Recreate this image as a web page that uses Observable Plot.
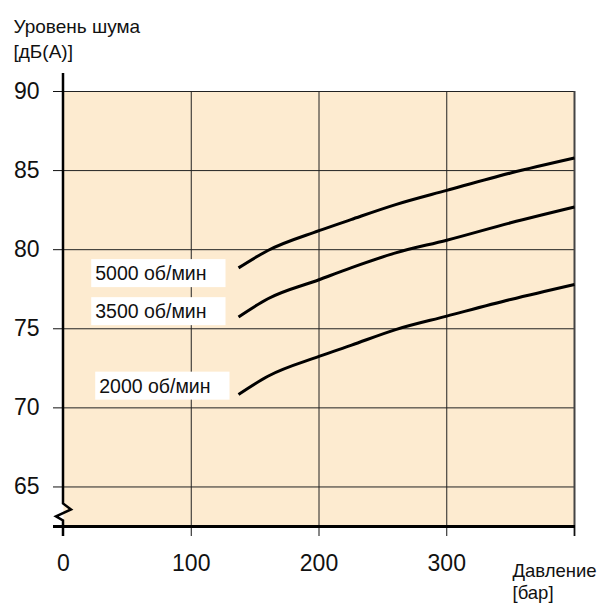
<!DOCTYPE html>
<html><head><meta charset="utf-8">
<script src="https://cdn.jsdelivr.net/npm/d3@7"></script>
<script src="https://cdn.jsdelivr.net/npm/@observablehq/plot@0.6"></script>
<style>body{margin:0;background:#fff}</style>
</head><body><div id="chart"></div>
<script>
// Data
const pressure = [137, 160, 200, 225, 260, 300, 350, 400];          // бар
const noise5000 = [78.85, 79.95, 81.2, 81.9, 82.85, 83.75, 84.85, 85.8]; // дБ(А)
const noise3500 = [75.75, 76.9, 78.1, 78.85, 79.8, 80.6, 81.7, 82.7];
const noise2000 = [70.85, 72.0, 73.25, 73.95, 74.95, 75.8, 76.85, 77.8];
const seriesNames = ["5000 об/мин", "3500 об/мин", "2000 об/мин"];
const xTicks = [0, 100, 200, 300, 400];
const xTickLabels = ["0", "100", "200", "300", ""];
const yTicks = [65, 70, 75, 80, 85, 90];
const yDomain = [62.5, 90];
const xDomain = [0, 400];
const yTitle = "Уровень шума\n[дБ(А)]";
const xTitle = "Давление\n[бар]";

const seriesValues = [noise5000, noise3500, noise2000];
const rows = seriesNames.flatMap((name, s) =>
  pressure.map((p, i) => ({series: name, p, db: seriesValues[s][i]})));

const labelOffsets = [{dx: -32, dy: 6}, {dx: -32, dy: -5}, {dx: -28, dy: -8}];
const font = "'Liberation Sans', Arial, Helvetica, sans-serif";

const chart = Plot.plot({
  width: 600,
  height: 605,
  marginLeft: 63,
  marginRight: 26,
  marginTop: 91,
  marginBottom: 79,
  style: {fontFamily: font, background: "#fff", color: "#111", overflow: "visible"},
  x: {domain: xDomain, axis: null},
  y: {domain: yDomain, axis: null},
  marks: [
    Plot.frame({fill: "#fdebd0", stroke: "none"}),
    Plot.gridY(yTicks, {stroke: "#222", strokeOpacity: 1, strokeWidth: 1}),
    Plot.gridX(xTicks.slice(1, -1), {stroke: "#222", strokeOpacity: 1, strokeWidth: 1}),
    Plot.ruleX([xDomain[1]], {stroke: "#444", strokeWidth: 2, insetBottom: -10}),
    Plot.axisX(xTicks, {tickSize: 10, tickPadding: 18, fontSize: 23, stroke: "#111", label: null,
      tickFormat: (d) => xTickLabels[xTicks.indexOf(d)]}),
    Plot.axisY(yTicks, {tickSize: 10, tickPadding: 14, fontSize: 23, stroke: "#111", label: null}),
    Plot.ruleY([yDomain[0]], {stroke: "#000", strokeWidth: 3, insetLeft: -10, insetRight: -1}),
    Plot.line(rows, {x: "p", y: "db", z: "series", stroke: "#000", strokeWidth: 3,
      curve: "monotone-x", strokeLinecap: "butt"}),
    ...seriesNames.map((name, s) =>
      Plot.text([{p: pressure[0], db: seriesValues[s][0], label: name}], {
        x: "p", y: "db", text: "label", textAnchor: "end",
        dx: labelOffsets[s].dx, dy: labelOffsets[s].dy,
        fontSize: 19.5, fill: "#111"})),
    Plot.text([yTitle], {frameAnchor: "top-left", textAnchor: "start", lineAnchor: "top",
      dx: -50, dy: -76, fontSize: 19, lineHeight: 1.32, fill: "#111"}),
    Plot.text([xTitle], {frameAnchor: "bottom-right", textAnchor: "start", lineAnchor: "top",
      dx: -62, dy: 35, fontSize: 18.5, lineHeight: 1.2, fill: "#111"})
  ]
});
document.getElementById("chart").append(chart);

// White boxes behind curve labels
const svg = d3.select(chart);
const svgBox = chart.getBoundingClientRect();
svg.selectAll("text").filter(function() { return this.textContent.includes("об/мин"); })
  .each(function() {
    const b = this.getBoundingClientRect();
    const g = this.parentNode;
    const rect = document.createElementNS("http://www.w3.org/2000/svg", "rect");
    rect.setAttribute("x", b.left - svgBox.left - 4);
    rect.setAttribute("y", b.top - svgBox.top - 3);
    rect.setAttribute("width", b.width + 4 + 19);
    rect.setAttribute("height", b.height + 6);
    rect.setAttribute("fill", "#fff");
    g.parentNode.insertBefore(rect, g);
  });

// Left axis line with break (zigzag)
const xs = chart.scale("x"), ys = chart.scale("y");
const lin = (sc, v) => sc.apply ? sc.apply(v) :
  sc.range[0] + (v - sc.domain[0]) / (sc.domain[1] - sc.domain[0]) * (sc.range[1] - sc.range[0]);
const x0 = lin(xs, xDomain[0]);
const yTop = lin(ys, yTicks[yTicks.length - 1]) - 18;
const yBreak = lin(ys, yTicks[0]) + 17;
const yBottom = lin(ys, yDomain[0]) + 10;
svg.append("path")
  .attr("d", `M${x0},${yTop}V${yBreak}L${x0 + 8},${yBreak + 6}L${x0 - 7},${yBreak + 13}L${x0},${yBreak + 17}V${yBottom}`)
  .attr("fill", "none").attr("stroke", "#000").attr("stroke-width", 2.5)
  .attr("stroke-linejoin", "miter");
</script>
</body></html>
